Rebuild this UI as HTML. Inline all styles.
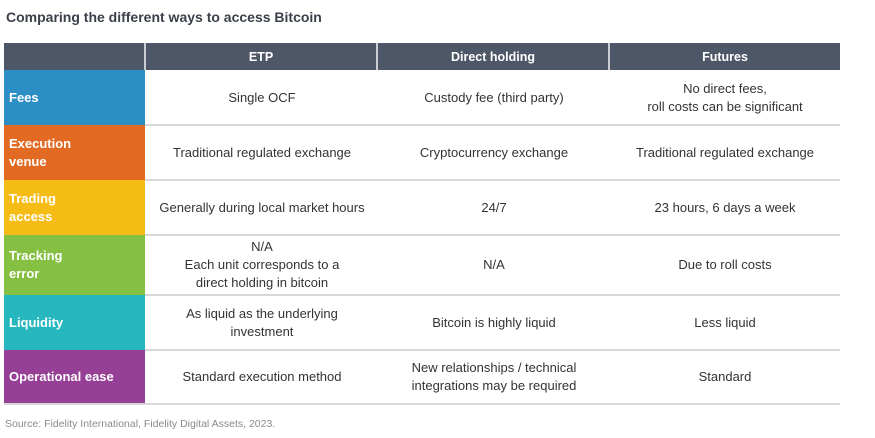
<!DOCTYPE html>
<html><head><style>
body{margin:0;width:875px;height:438px;background:#fff;font-family:"Liberation Sans",sans-serif;position:relative;overflow:hidden}
.t{position:absolute;left:6px;top:9px;font-size:14px;font-weight:bold;color:#3a3f4a}
.c{position:absolute;display:flex;align-items:center;justify-content:center;text-align:center;font-size:13px;color:#333;line-height:18px;box-sizing:border-box}
.h{background:#4e5767;color:#fff;font-weight:bold;font-size:12.5px;border-right:2px solid #c9ccd2}
.l{justify-content:flex-start;text-align:left;color:#fff;font-weight:bold;padding-left:5px;font-size:13px}
.line{position:absolute;left:145px;width:695px;height:2px;background:#d8d8d8}
.s{position:absolute;left:5px;top:418px;font-size:10.5px;color:#8a8a8a}
</style></head><body>
<div class="t">Comparing the different ways to access Bitcoin</div>
<div class="c h" style="left:4px;top:43px;width:142px;height:27px"></div>
<div class="c h" style="left:146px;top:43px;width:232px;height:27px">ETP</div>
<div class="c h" style="left:378px;top:43px;width:232px;height:27px">Direct holding</div>
<div class="c h" style="left:610px;top:43px;width:230px;height:27px;border-right:none">Futures</div>

<div class="c l" style="left:4px;top:70px;width:141px;height:55px;background:#2b8ec4">Fees</div>
<div class="c l" style="left:4px;top:125px;width:141px;height:55px;background:#e36a22">Execution<br>venue</div>
<div class="c l" style="left:4px;top:180px;width:141px;height:55px;background:#f6bc16">Trading<br>access</div>
<div class="c l" style="left:4px;top:235px;width:141px;height:60px;background:#86c043">Tracking<br>error</div>
<div class="c l" style="left:4px;top:295px;width:141px;height:55px;background:#26b8be">Liquidity</div>
<div class="c l" style="left:4px;top:350px;width:141px;height:54px;background:#963f96">Operational ease</div>

<div class="line" style="top:124px"></div>
<div class="line" style="top:179px"></div>
<div class="line" style="top:234px"></div>
<div class="line" style="top:294px"></div>
<div class="line" style="top:349px"></div>
<div class="line" style="top:403px;left:4px;width:836px"></div>

<div class="c" style="left:146px;top:70px;width:232px;height:55px">Single OCF</div>
<div class="c" style="left:378px;top:70px;width:232px;height:55px">Custody fee (third party)</div>
<div class="c" style="left:610px;top:70px;width:230px;height:55px">No direct fees,<br>roll costs can be significant</div>

<div class="c" style="left:146px;top:125px;width:232px;height:55px">Traditional regulated exchange</div>
<div class="c" style="left:378px;top:125px;width:232px;height:55px">Cryptocurrency exchange</div>
<div class="c" style="left:610px;top:125px;width:230px;height:55px">Traditional regulated exchange</div>

<div class="c" style="left:146px;top:180px;width:232px;height:55px">Generally during local market hours</div>
<div class="c" style="left:378px;top:180px;width:232px;height:55px">24/7</div>
<div class="c" style="left:610px;top:180px;width:230px;height:55px">23 hours, 6 days a week</div>

<div class="c" style="left:146px;top:235px;width:232px;height:60px">N/A<br>Each unit corresponds to a<br>direct holding in bitcoin</div>
<div class="c" style="left:378px;top:235px;width:232px;height:60px">N/A</div>
<div class="c" style="left:610px;top:235px;width:230px;height:60px">Due to roll costs</div>

<div class="c" style="left:146px;top:295px;width:232px;height:55px">As liquid as the underlying<br>investment</div>
<div class="c" style="left:378px;top:295px;width:232px;height:55px">Bitcoin is highly liquid</div>
<div class="c" style="left:610px;top:295px;width:230px;height:55px">Less liquid</div>

<div class="c" style="left:146px;top:350px;width:232px;height:54px">Standard execution method</div>
<div class="c" style="left:378px;top:350px;width:232px;height:54px">New relationships / technical<br>integrations may be required</div>
<div class="c" style="left:610px;top:350px;width:230px;height:54px">Standard</div>

<div class="s">Source: Fidelity International, Fidelity Digital Assets, 2023.</div>
</body></html>
